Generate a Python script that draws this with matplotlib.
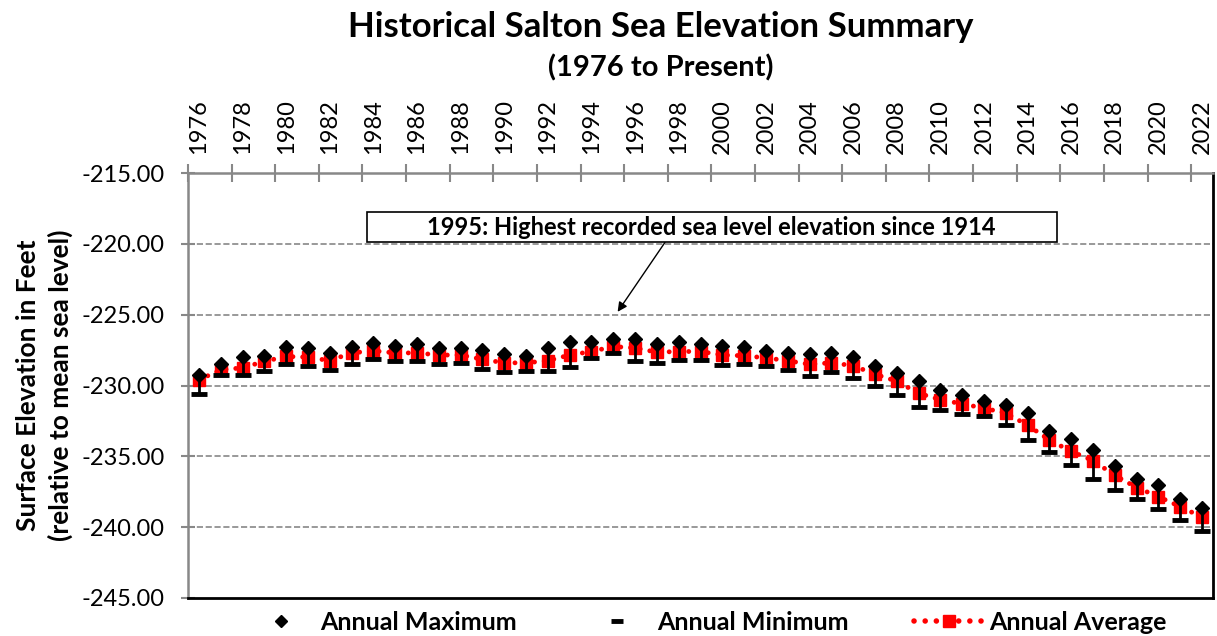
import numpy as np
import matplotlib.pyplot as plt
from matplotlib.lines import Line2D
from matplotlib.patches import Rectangle

years = list(range(1976, 2023))

annual_max = [-229.25, -228.5, -228.0, -227.9, -227.25, -227.35, -227.7, -227.3, -227.0, -227.2,
              -227.1, -227.35, -227.35, -227.5, -227.8, -227.9, -227.35, -226.95, -226.95, -226.7,
              -226.75, -227.05, -226.95, -227.05, -227.2, -227.3, -227.55, -227.7, -227.75, -227.7,
              -228.0, -228.6, -229.15, -229.7, -230.3, -230.7, -231.1, -231.4, -231.95, -233.2,
              -233.75, -234.55, -235.7, -236.6, -237.0, -238.0, -238.65]
annual_min = [-230.6, -229.25, -229.25, -228.97, -228.5, -228.6, -228.9, -228.5, -228.1, -228.3,
              -228.3, -228.5, -228.4, -228.8, -229.05, -228.95, -228.95, -228.7, -228.05, -227.7,
              -228.25, -228.4, -228.2, -228.2, -228.55, -228.5, -228.6, -228.9, -229.3, -229.05,
              -229.45, -230.05, -230.7, -231.5, -231.75, -232.0, -232.15, -232.8, -233.85, -234.7,
              -235.6, -236.6, -237.35, -238.0, -238.7, -239.5, -240.25]
annual_avg = [-229.6, -228.9, -228.75, -228.3, -227.95, -228.0, -228.25, -227.7, -227.55, -227.7,
              -227.7, -227.85, -227.85, -228.15, -228.4, -228.4, -228.25, -227.85, -227.6, -227.25,
              -227.35, -227.65, -227.6, -227.6, -227.85, -227.9, -228.05, -228.25, -228.5, -228.4,
              -228.6, -229.2, -229.7, -230.55, -231.0, -231.3, -231.6, -231.95, -232.8, -233.85,
              -234.65, -235.3, -236.35, -237.2, -237.85, -238.55, -239.3]

fig = plt.figure(figsize=(12.17, 6.36), dpi=100)
ax = fig.add_axes([188/1217, 1 - 598/636, (1213 - 188)/1217, (598 - 173)/636])

x = np.arange(len(years))
dots = (0, (0.01, 2.0))

ax.plot(x, annual_avg, color='red', linestyle=dots, dash_capstyle='round', linewidth=3.5,
        marker='s', markersize=8, zorder=2)
ax.vlines(x, annual_min, annual_max, color='black', linewidth=2, zorder=3)
ax.plot(x, annual_min, linestyle='none', marker='_', markersize=11,
        markeredgewidth=3.5, color='black', zorder=4)
ax.plot(x, annual_max, linestyle='none', marker='D', markersize=7,
        color='black', zorder=5)

ax.set_xlim(-0.5, len(years) - 0.5)
ax.set_ylim(-245, -215)
yt = np.arange(-245, -214, 5)
ax.set_yticks(yt)
ax.set_yticklabels([f'{v:.2f}' for v in yt], fontfamily='Lato', fontsize=17)
for v in range(-240, -219, 5):
    ax.axhline(v, color='#888888', linestyle='--', linewidth=1.2, zorder=1)

# year labels on top, ticks at category borders
ax.xaxis.tick_top()
ax.set_xticks(x[::2])
ax.set_xticklabels([str(y) for y in years[::2]], rotation=90,
                   fontfamily='Lato', fontsize=17)
ax.tick_params(axis='x', length=0, pad=14)
ax.set_xticks(np.arange(-0.5, len(years), 2), minor=True)
ax.tick_params(axis='x', which='minor', top=True, bottom=False,
               direction='inout', length=13, color='#888888', width=1.5)
ax.tick_params(axis='y', direction='inout', length=10, color='#888888', width=1.5, pad=12)

ax.spines['left'].set_color('#888888')
ax.spines['top'].set_color('#888888')
for s in ['left', 'top']:
    ax.spines[s].set_linewidth(1.8)
for s in ['right', 'bottom']:
    ax.spines[s].set_linewidth(2)

ax.set_ylabel('Surface Elevation in Feet\n(relative to mean sea level)',
              fontfamily='Lato', fontweight='bold', fontsize=19, labelpad=6,
              linespacing=1.35)

# note box and arrow
ax.add_patch(Rectangle((7.71, -219.9), 39.34 - 7.71, 2.13, fc='white', ec='black',
                       lw=1.2, zorder=6))
ax.text(23.5, -218.85, '1995: Highest recorded sea level elevation since 1914',
        ha='center', va='center', fontfamily='Lato', fontweight='bold',
        fontsize=17, zorder=7)
ax.annotate('', xy=(19.2, -224.8), xytext=(21.37, -219.9),
            arrowprops=dict(arrowstyle='-|>', color='black', lw=1,
                            mutation_scale=14, shrinkA=0, shrinkB=0))

fig.text(0.543, 0.957, 'Historical Salton Sea Elevation Summary', ha='center',
         va='center', fontfamily='Lato', fontweight='bold', fontsize=25)
fig.text(0.543, 0.893, '(1976 to Present)', ha='center', va='center',
         fontfamily='Lato', fontweight='bold', fontsize=21)

handles = [
    Line2D([], [], linestyle='none', marker='D', markersize=6, color='black'),
    Line2D([], [], linestyle='none', marker='_', markersize=8,
           markeredgewidth=3.5, color='black'),
    Line2D([], [], color='red', linestyle=dots, dash_capstyle='round', linewidth=4,
           marker='s', markersize=9),
]
fig.legend(handles, ['Annual Maximum', 'Annual Minimum', 'Annual Average'],
           loc='center', bbox_to_anchor=(0.58, 0.022), ncol=3, frameon=False,
           prop={'family': 'Lato', 'weight': 'bold', 'size': 18},
           columnspacing=2.6, handlelength=2.8, handletextpad=0.2)

fig.savefig('out.png', dpi=100)
